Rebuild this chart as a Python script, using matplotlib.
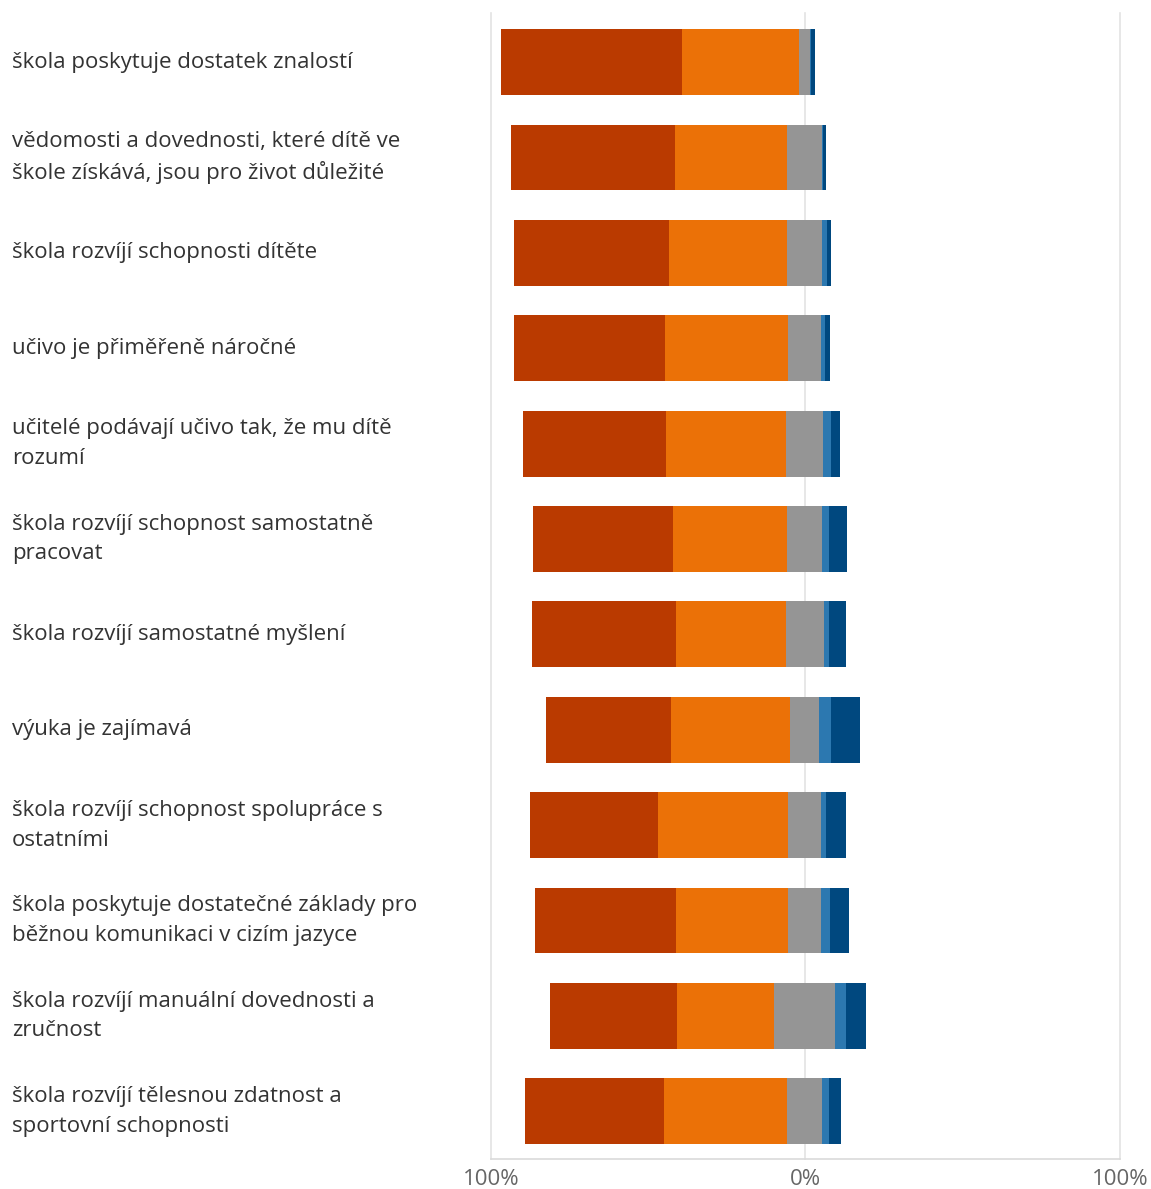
import matplotlib
matplotlib.use("Agg")
import matplotlib.pyplot as plt
import numpy as np
from matplotlib.transforms import blended_transform_factory

categories = [
    "škola poskytuje dostatek znalostí",
    "vědomosti a dovednosti, které dítě ve\nškole získává, jsou pro život důležité",
    "škola rozvíjí schopnosti dítěte",
    "učivo je přiměřeně náročné",
    "učitelé podávají učivo tak, že mu dítě\nrozumí",
    "škola rozvíjí schopnost samostatně\npracovat",
    "škola rozvíjí samostatné myšlení",
    "výuka je zajímavá",
    "škola rozvíjí schopnost spolupráce s\nostatními",
    "škola poskytuje dostatečné základy pro\nběžnou komunikaci v cizím jazyce",
    "škola rozvíjí manuální dovednosti a\nzručnost",
    "škola rozvíjí tělesnou zdatnost a\nsportovní schopnosti",
]

strongly_agree = [57.5, 52.0, 49.2, 48.0, 45.4, 44.3, 45.9, 39.8, 41.0, 44.9, 40.5, 44.2]
agree          = [37.1, 35.7, 37.4, 39.1, 38.2, 36.4, 34.8, 37.7, 41.2, 35.7, 30.9, 39.1]
neutral        = [3.7, 11.3, 11.3, 10.5, 11.7, 11.1, 12.1, 9.3, 10.5, 10.5, 19.3, 11.1]
disagree       = [0.3, 0.3, 1.5, 1.2, 2.7, 2.1, 1.6, 3.9, 1.7, 2.8, 3.5, 2.1]
strongly_dis   = [1.3, 1.0, 1.2, 1.6, 2.7, 6.0, 5.6, 9.2, 6.1, 6.1, 6.5, 3.9]

tick_values = [-100, 0, 100]
tick_labels = ["100%", "0%", "100%"]

colors = ["#BA3A00", "#EB7107", "#959595", "#2C78B0", "#00487F"]

W, H = 1151, 1189
fig = plt.figure(figsize=(W / 100, H / 100), dpi=100)
ax = fig.add_axes([491 / W, 1 - 1159 / H, (1120 - 491) / W, (1159 - 13) / H])

n = len(categories)
y = np.arange(n)
sa = np.array(strongly_agree)
ag = np.array(agree)
ne = np.array(neutral)
di = np.array(disagree)
sd = np.array(strongly_dis)

start = -(sa + ag + ne / 2) - 0.3
segs = [sa, ag, ne, di, sd]
left = start.copy()
h = 0.69
for vals, c in zip(segs, colors):
    ax.barh(y, vals, left=left, height=h, color=c, edgecolor="none", zorder=3)
    left = left + vals

ax.set_xlim(-100, 100)
ax.set_ylim(n - 0.5, -0.515)

for xv in tick_values:
    ax.axvline(xv, color="#E3E3E3", lw=1.2, zorder=1, clip_on=False)

for s in ["top", "right", "left"]:
    ax.spines[s].set_visible(False)
ax.spines["bottom"].set_color("#DADADA")
ax.spines["bottom"].set_linewidth(1.2)
ax.set_yticks([])
ax.set_xticks(tick_values)
ax.set_xticklabels(tick_labels, fontsize=16, color="#666666", family=["Open Sans", "DejaVu Sans"])
ax.tick_params(axis="x", length=0, pad=7)

trans = blended_transform_factory(fig.transFigure, ax.transData)
for yi, lab in zip(y, categories):
    ax.text(12 / W, yi, lab, transform=trans, ha="left", va="center",
            fontsize=16, color="#333333", linespacing=1.55,
            family=["Open Sans", "DejaVu Sans"])

fig.savefig("out.png", dpi=100, facecolor="white")
